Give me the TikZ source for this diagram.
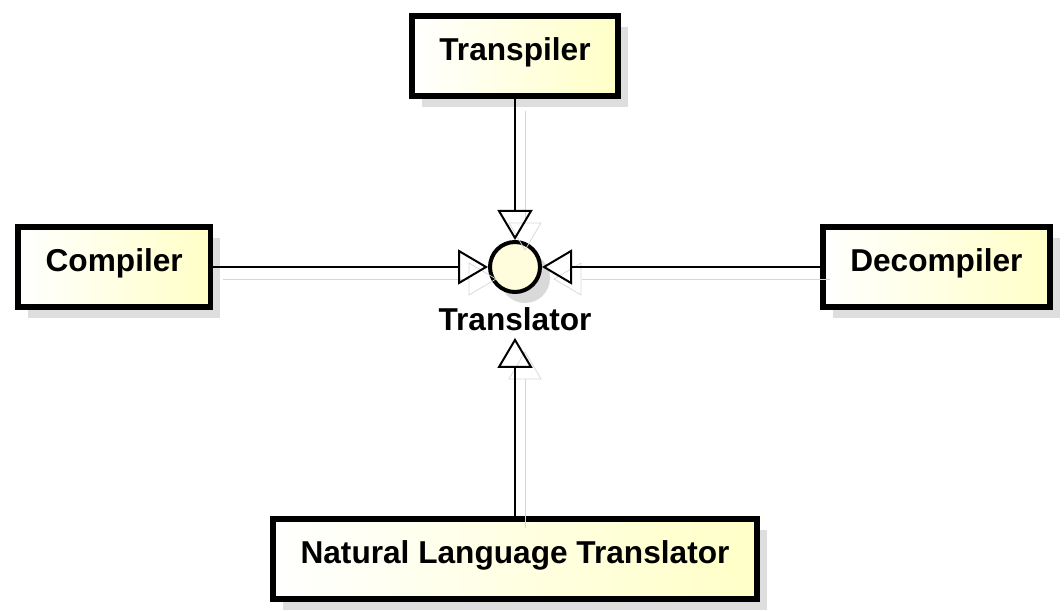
\documentclass[tikz,border=0pt]{standalone}
\usepackage{fontspec}
\setmainfont{Liberation Sans}
\usetikzlibrary{positioning}
\usetikzlibrary{arrows.meta,shadows}
\tikzset{%
  cls/.style = {rectangle,draw,line width=0.11cm,left color=white,
        right color=yellow!22,minimum height=1.6cm,inner xsep=0.55cm,
        text depth=0.28cm,
        font=\bfseries\fontsize{18}{21}\selectfont,
        drop shadow={shadow xshift=0.2cm,shadow yshift=-0.22cm,
        fill=black!13,opacity=1}},
  iface/.style = {circle,draw,line width=0.08cm,fill=yellow!14,
        minimum size=1cm,inner sep=0pt,
        drop shadow={shadow xshift=0.2cm,shadow yshift=-0.22cm,
        fill=black!15,opacity=1}},
  realize/.style = {-{Triangle[open,length=0.6cm,width=0.7cm]},
        line width=0.04cm,
        preaction={draw=black!16,transform canvas={shift={(0.2cm,-0.24cm)}}}}
}
\begin{document}
\begin{tikzpicture}
\useasboundingbox (0,0) rectangle (21.28,-12.22);
\node[iface] (tr) at (10.30,-5.34) {};
\node[inner sep=0.14cm,font=\bfseries\fontsize{18}{21}\selectfont]
      (trl) [below=0.12cm of tr] {Translator};

\node[cls] (tsp) [above=2.82cm of tr] {Transpiler};
\node[cls] (cmp) [left=5.5cm of tr] {Compiler};
\node[cls] (dcm) [right=5.56cm of tr] {Decompiler};
\node[cls] (nlt) [below=4.44cm of tr] {Natural Language Translator};

\draw[realize] (tsp) -- (tr);
\draw[realize] (cmp) -- (tr);
\draw[realize] (dcm) -- (tr);
\draw[realize] (nlt) -- (trl);
\end{tikzpicture}
\end{document}
